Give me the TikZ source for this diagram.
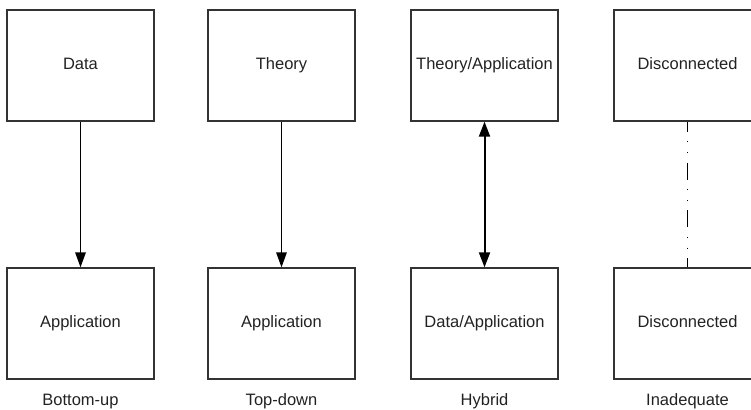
\documentclass[tikz,border=0pt]{standalone}
\usepackage{fontspec}
\setmainfont{Liberation Sans}
\usetikzlibrary{arrows.meta}
\definecolor{edge}{HTML}{333333}
\definecolor{txt}{HTML}{222222}
\begin{document}
\begin{tikzpicture}[x=1pt,y=-1pt,
  box/.style={draw=edge,line width=1.3pt,minimum width=147pt,minimum height=111pt,inner sep=0pt,
    font=\fontsize{16.5}{19}\selectfont,text=txt,text height=11.8pt,text depth=3.4pt},
  caption/.style={font=\fontsize{16.5}{19}\selectfont,text=txt,inner sep=0pt,text height=11.8pt,text depth=3.4pt},
  conn/.style={line width=1.5pt,black,-{Triangle[length=15pt,width=10.5pt]}},
  dconn/.style={line width=2pt,black,{Triangle[length=15pt,width=11pt]}-{Triangle[length=15pt,width=11pt]}},
  dashdot/.style={line width=1.5pt,black,dash pattern=on 17pt off 9.5pt on 1.2pt off 9.5pt on 1.2pt off 9.5pt,dash phase=7pt}]
\useasboundingbox (0,0) rectangle (751,409);
\clip (0,0) rectangle (751,409);
\node[box] (d1) at (80.5,65.5) {Data};
\node[box] (a1) at (80.5,323.5) {Application};
\node[box] (t2) at (281.5,65.5) {Theory};
\node[box] (a2) at (281.5,323.5) {Application};
\node[box] (t3) at (484.5,65.5) {Theory/Application};
\node[box] (a3) at (484.5,323.5) {Data/Application};
\node[box] (t4) at (687.5,65.5) {Disconnected};
\node[box] (a4) at (687.5,323.5) {Disconnected};
\node[caption] (c1) at (80.5,401) {Bottom-up};
\node[caption] (c2) at (281.5,401) {Top-down};
\node[caption] (c3) at (484.5,401) {Hybrid};
\node[caption] (c4) at (687.5,401) {Inadequate};
\draw[conn] (d1) -- (a1);
\draw[conn] (t2) -- (a2);
\draw[dconn] (t3) -- (a3);
\draw[dashdot] (t4) -- (a4);
\end{tikzpicture}
\end{document}
